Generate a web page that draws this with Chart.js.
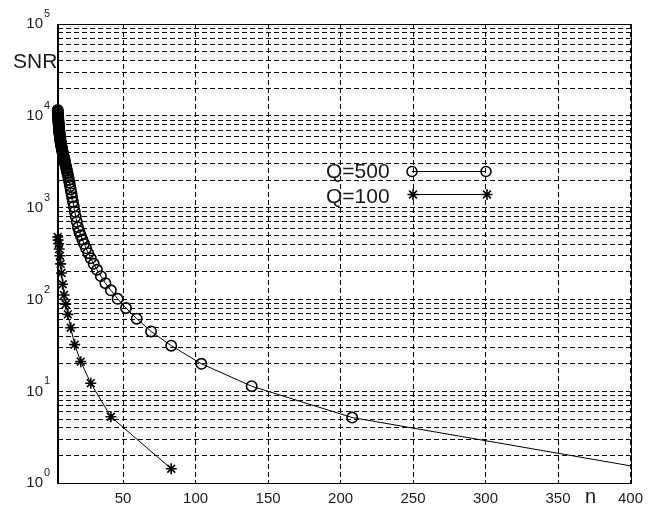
<!DOCTYPE html>
<html>
<head>
<meta charset="utf-8">
<style>
  html, body { margin: 0; padding: 0; background: #fff; }
  canvas { display: block; }
</style>
</head>
<body>
<canvas id="snrChart" width="656" height="505"></canvas>
<script src="https://cdn.jsdelivr.net/npm/chart.js"></script>
<script>
// values (Q=500: circles, Q=100: stars)
const n500 = [416, 208, 138.7, 104, 83.2, 69.3, 59.4, 52, 46.2, 41.6,
  37.8, 34.7, 32, 29.7, 27.7, 26, 24.5, 23.1, 21.9, 20.8,
  19.81, 18.91, 18.09, 17.33, 16.64, 16.0, 15.41, 14.86, 14.34, 13.87,
  13.42, 13.0, 12.61, 12.24, 11.89, 11.56, 11.24, 10.95, 10.67, 10.4,
  10.15, 9.9, 9.67, 9.45, 9.24, 9.04, 8.85, 8.67, 8.49, 8.32,
  8.16, 8.0, 7.85, 7.7, 7.56, 7.43, 7.3, 7.17, 7.05, 6.93,
  6.82, 6.71, 6.6, 6.5, 6.4, 6.3, 6.21, 6.12, 6.03, 5.94,
  5.86, 5.78, 5.7, 5.62, 5.55, 5.47, 5.4, 5.33, 5.27, 5.2,
  5.14, 5.07, 5.01, 4.95, 4.894];
const snr500 = [1.4, 5.2, 11.4, 20, 31.5, 45, 62, 81, 102, 126,
  151, 180, 211, 245, 281, 320, 361, 405, 451, 500,
  551, 612, 703, 802, 909, 1030, 1160, 1300, 1440, 1580,
  1720, 1880, 2010, 2150, 2270, 2390, 2520, 2660, 2770, 2890,
  3000, 3120, 3240, 3350, 3460, 3560, 3670, 3780, 3890, 3990,
  4100, 4210, 4320, 4440, 4560, 4690, 4820, 4950, 5080, 5200,
  5330, 5460, 5630, 5820, 6000, 6190, 6360, 6520, 6700, 6870,
  7130, 7390, 7660, 7940, 8200, 8460, 8740, 9020, 9350, 9690,
  10050, 10420, 10800, 11190, 11590];
const n100 = [83.2, 41.6, 27.7, 20.8, 16.6, 13.9, 11.9, 10.4, 9.24, 8.32,
  7.56, 6.93, 6.4, 5.94, 5.55, 5.2, 4.894];
const snr100 = [1.44, 5.3, 12.3, 21.1, 32.3, 49.4, 69, 89, 112, 147,
  195, 245, 300, 355, 405, 445, 480];

const seriesLabels = ["Q=500", "Q=100"];
const xTicks = [50, 100, 150, 200, 250, 300, 350, 400];
const yDecades = [1, 10, 100, 1000, 10000, 100000];

const FONT = 'Arial, "Liberation Sans", sans-serif';
const ink = "#1a1a1a";

function toPoints(xs, ys) {
    return xs.map((x, i) => ({ x: x, y: ys[i] }));
}

// log grid: 1..9 in every decade
const yGrid = [];
yDecades.forEach(d => {
    for (let k = 1; k <= 9; k++) {
        if (d * k <= 100000) yGrid.push(d * k);
    }
});

function drawStar(ctx, x, y, r) {
    ctx.beginPath();
    ctx.moveTo(x - r, y); ctx.lineTo(x + r, y);
    ctx.moveTo(x, y - r); ctx.lineTo(x, y + r);
    const d = r * Math.SQRT1_2;
    ctx.moveTo(x - d, y - d); ctx.lineTo(x + d, y + d);
    ctx.moveTo(x - d, y + d); ctx.lineTo(x + d, y - d);
    ctx.stroke();
}

const decorations = {
    id: "decorations",
    afterDraw(chart) {
        const ctx = chart.ctx;
        const a = chart.chartArea;
        const yScale = chart.scales.y;
        ctx.save();

        // axes box
        ctx.strokeStyle = "#000";
        ctx.lineWidth = 1;
        ctx.setLineDash([]);
        const l = Math.round(a.left), t = Math.round(a.top);
        const r = Math.round(a.right), b = Math.round(a.bottom);
        ctx.strokeRect(l + 0.5, t + 0.5, r - l, b - t);

        // y tick labels 10^k
        ctx.fillStyle = ink;
        yDecades.forEach((v, i) => {
            const py = yScale.getPixelForValue(v);
            ctx.font = "15px " + FONT;
            ctx.textAlign = "right";
            ctx.textBaseline = "middle";
            ctx.fillText("10", 43, py);
            ctx.font = "11px " + FONT;
            ctx.textAlign = "left";
            ctx.fillText(String(i), 44, py - 10);
        });

        // axis titles
        ctx.font = "21px " + FONT;
        ctx.textAlign = "left";
        ctx.textBaseline = "middle";
        ctx.fillText("SNR", 13, 62);
        ctx.font = "20px " + FONT;
        ctx.fillText("n", 585, 497);

        // legend
        ctx.font = "21px " + FONT;
        ctx.fillText(seriesLabels[0], 326, 172);
        ctx.fillText(seriesLabels[1], 326, 197);
        ctx.strokeStyle = "#000";
        ctx.lineWidth = 1;
        ctx.beginPath();
        ctx.moveTo(412, 171.5); ctx.lineTo(486, 171.5);
        ctx.moveTo(413, 194.5); ctx.lineTo(487, 194.5);
        ctx.stroke();
        ctx.lineWidth = 1.5;
        [412, 486].forEach(x => {
            ctx.beginPath();
            ctx.arc(x, 171.5, 5, 0, Math.PI * 2);
            ctx.stroke();
        });
        drawStar(ctx, 413, 194.5, 5.5);
        drawStar(ctx, 487, 194.5, 5.5);

        ctx.restore();
    }
};

const gridOpts = { color: "#000", lineWidth: 1, drawTicks: false };
const borderOpts = { display: true, color: "#000", width: 1, dash: [5, 3] };
const clipOpts = { left: false, top: false, right: 0, bottom: 0 };

new Chart(document.getElementById("snrChart"), {
    type: "line",
    data: {
        datasets: [
            {
                label: seriesLabels[0],
                data: toPoints(n500, snr500),
                borderColor: "#000",
                borderWidth: 1,
                pointStyle: "circle",
                pointRadius: 5.2,
                pointBorderWidth: 1.6,
                pointBorderColor: "#000",
                pointBackgroundColor: "rgba(0,0,0,0)",
                tension: 0,
                clip: clipOpts,
            },
            {
                label: seriesLabels[1],
                data: toPoints(n100, snr100),
                borderColor: "#000",
                borderWidth: 1,
                pointStyle: "star",
                pointRadius: 5.5,
                pointBorderWidth: 1.6,
                pointBorderColor: "#000",
                pointBackgroundColor: "#000",
                tension: 0,
                clip: clipOpts,
            },
        ],
    },
    options: {
        responsive: false,
        animation: false,
        events: [],
        layout: { padding: { top: 24, right: 25.5, left: 0, bottom: 0 } },
        plugins: {
            legend: { display: false },
            tooltip: { enabled: false },
        },
        scales: {
            x: {
                type: "linear",
                min: 4.894,
                max: 400,
                afterBuildTicks: s => { s.ticks = xTicks.map(v => ({ value: v })); },
                afterFit: s => { s.height = 21.7; },
                grid: gridOpts,
                border: borderOpts,
                ticks: {
                    color: ink,
                    font: { family: FONT, size: 15 },
                    padding: 7,
                    maxRotation: 0,
                    autoSkip: false,
                },
            },
            y: {
                type: "logarithmic",
                min: 1,
                max: 100000,
                afterBuildTicks: s => { s.ticks = yGrid.map(v => ({ value: v })); },
                afterFit: s => { s.width = 57.7; },
                grid: gridOpts,
                border: borderOpts,
                ticks: { display: false },
            },
        },
    },
    plugins: [decorations],
});
</script>
</body>
</html>
